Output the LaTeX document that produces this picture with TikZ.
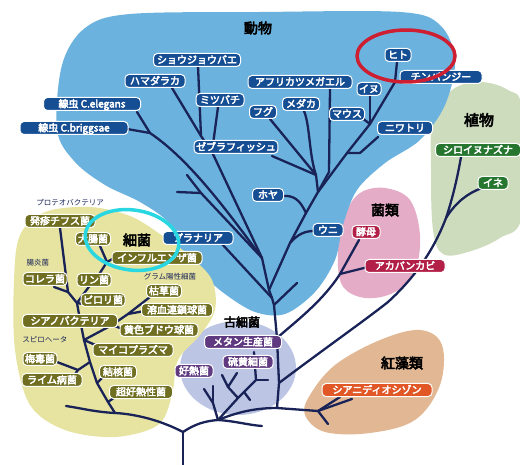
\documentclass[tikz,border=0pt]{standalone}
\usepackage{fontspec}
\newfontfamily\jp{Noto Sans CJK JP}
\newfontfamily\jpb{Noto Sans CJK JP}[FakeBold=4]
\definecolor{bgBlue}{RGB}{108,178,222}
\definecolor{bgYel}{RGB}{230,228,160}
\definecolor{bgArc}{RGB}{188,198,228}
\definecolor{bgPink}{RGB}{228,172,198}
\definecolor{bgGreen}{RGB}{206,220,190}
\definecolor{bgTan}{RGB}{226,184,148}
\definecolor{cAni}{RGB}{22,78,148}
\definecolor{cBac}{RGB}{112,110,32}
\definecolor{cArc}{RGB}{96,58,128}
\definecolor{cFun}{RGB}{178,32,72}
\definecolor{cPla}{RGB}{38,118,48}
\definecolor{cRed}{RGB}{225,88,38}
\definecolor{treeC}{RGB}{25,35,88}
\definecolor{ringRed}{RGB}{205,30,50}
\definecolor{ringCyan}{RGB}{40,215,225}
\tikzset{
 lab/.style={rounded corners=4pt, draw=white, line width=1pt, text=white,
   font=\jpb\fontsize{10}{10}\selectfont, inner xsep=2pt, inner ysep=1.5pt,
   text height=8.5pt, text depth=1.5pt},
 ani/.style={lab, fill=cAni},
 bac/.style={lab, fill=cBac},
 arc/.style={lab, fill=cArc},
 fun/.style={lab, fill=cFun},
 pla/.style={lab, fill=cPla},
 rea/.style={lab, fill=cRed},
 grp/.style={font=\jpb\fontsize{14}{14}\selectfont, text=black, inner sep=0pt},
 tiny/.style={font=\jp\fontsize{7.5}{7.5}\selectfont, text=treeC, inner sep=0pt},
 br/.style={draw=treeC, line width=2.3pt, line cap=round, line join=round},
 ring/.style={line width=3.5pt},
}
\begin{document}
\begin{tikzpicture}[x=1pt,y=-1pt]
\useasboundingbox (0,0) rectangle (520,465);
% ---------- regions
\fill[bgGreen] plot[smooth cycle, tension=0.6] coordinates {(433,120) (452,90) (480,82) (508,90) (522,110) (522,215) (500,238) (468,252) (443,254) (433,230) (431,170)};
\fill[bgTan] plot[smooth cycle, tension=0.6] coordinates {(310,395) (335,365) (380,340) (420,330) (442,345) (440,385) (415,420) (370,433) (325,432) (305,415)};
\fill[bgPink] plot[smooth cycle, tension=0.6] coordinates {(345,215) (360,193) (385,188) (410,200) (420,235) (415,270) (395,292) (365,298) (342,285) (338,250)};
\fill[bgArc] (238,368) ellipse[x radius=58, y radius=47];
\fill[bgBlue] plot[smooth cycle, tension=0.55] coordinates {(62,65) (85,28) (130,14) (260,12) (400,12) (440,25) (455,60) (445,105) (420,140) (385,163) (357,190) (343,225) (335,260) (315,292) (285,314) (255,312) (225,294) (200,272) (180,248) (168,222) (140,202) (105,185) (75,162) (57,130)};
\fill[bgYel] plot[smooth cycle, tension=0.55] coordinates {(20,235) (45,212) (90,207) (130,216) (160,234) (190,256) (212,280) (215,310) (200,335) (178,360) (172,395) (158,425) (115,437) (65,430) (30,405) (15,350) (14,280)};
% ---------- tree: trunk
\coordinate (root) at (183,466);
\coordinate (f0) at (183,432);
\coordinate (b0) at (115,413);
\coordinate (bl) at (66,406);
\coordinate (ar) at (218,420);
\coordinate (st) at (262,426);
\coordinate (eu) at (277,408);
\coordinate (ra) at (318,411);
\draw[br] (root) -- (f0);
\draw[br] (f0) .. controls (160,420) and (135,414) .. (b0) .. controls (95,412) and (80,408) .. (bl);
\draw[br] (f0) .. controls (195,424) and (205,421) .. (ar);
\draw[br] (ar) .. controls (235,421) and (248,425) .. (st);
\draw[br] (ar) .. controls (238,412) and (255,408) .. (eu) -- (ra);
% red algae
\coordinate (ra1) at (352,399);
\coordinate (ra2) at (340,397);
\coordinate (ra3) at (328,424);
\draw[br] (ra) -- (ra1);
\draw[br] (ra) -- (ra2);
\draw[br] (ra) -- (ra3);
% animal stem
\coordinate (a1) at (279,383);
\coordinate (a2) at (277,338);
\coordinate (a3) at (274,305);
\coordinate (a3b) at (272,298);
\coordinate (a4) at (269,290);
\coordinate (stb) at (297,283);
\draw[br] (eu) -- (a1) -- (a2) -- (a3) -- (a3b) -- (a4);
\draw[br] (a3) -- (stb);
% plants
\coordinate (pl1) at (388,302);
\coordinate (p1) at (446,218);
\coordinate (pAra) at (461,157);
\coordinate (pIne) at (482,188);
\draw[br] (a1) .. controls (320,352) and (368,318) .. (pl1) .. controls (410,282) and (432,255) .. (p1) .. controls (452,200) and (457,180) .. (pAra);
\draw[br] (p1) .. controls (456,202) and (468,193) .. (pIne);
% fungi
\coordinate (g1) at (340,274);
\coordinate (gYe) at (359,240);
\coordinate (gAk) at (368,267);
\draw[br] (a2) .. controls (295,322) and (322,302) .. (g1) -- (gYe);
\draw[br] (g1) -- (gAk);
% planaria
\coordinate (pl0) at (222,244);
\draw[br] (pl0) -- (a3b);
% protostomes
\coordinate (p0) at (262,258);
\coordinate (ins1) at (212,152);
\coordinate (ins0) at (201,136);
\coordinate (iDro) at (198,66);
\coordinate (iHam) at (172,88);
\coordinate (iMit) at (218,107);
\coordinate (nem0) at (150,133);
\coordinate (nEle) at (137,112);
\coordinate (nBri) at (127,129);
\coordinate (sg1) at (201,193);
\coordinate (sg0) at (187,175);
\coordinate (sg2) at (177,192);
\draw[br] (a4) -- (p0) -- (ins1) -- (ins0) -- (iDro);
\draw[br] (ins0) -- (iHam);
\draw[br] (ins1) -- (iMit);
\draw[br] (p0) .. controls (228,212) and (190,160) .. (nem0) -- (nEle);
\draw[br] (nem0) -- (nBri);
\draw[br] (p0) -- (sg1) -- (sg0);
\draw[br] (sg1) -- (sg2);
% deuterostomes
\coordinate (d1) at (290,243);
\coordinate (d2) at (306,213);
\coordinate (v0) at (318,192);
\coordinate (f1) at (316,175);
\coordinate (v1) at (347,153);
\coordinate (v2) at (370,124);
\coordinate (v3) at (395,82);
\coordinate (fr0) at (329,172);
\draw[br] (a4) -- (d1) -- (d2) -- (v0) -- (v1) -- (v2) -- (v3);
\coordinate (dUni) at (314,231);
\coordinate (dHoy) at (282,196);
\draw[br] (d1) .. controls (298,234) and (305,231) .. (dUni);
\draw[br] (d2) .. controls (300,200) and (294,195) .. (dHoy);
\coordinate (fZeb) at (272,156);
\coordinate (fFug) at (270,119);
\coordinate (fMed) at (304,111);
\coordinate (fFro) at (330,89);
\draw[br] (v0) -- (f1) -- (fZeb);
\draw[br] (f1) -- (fFug);
\draw[br] (f1) .. controls (309,155) and (310,125) .. (fMed);
\draw[br] (v0) -- (fr0) -- (fFro);
\coordinate (v1b) at (360,153);
\coordinate (vNiw) at (378,137);
\coordinate (vMou) at (362,118);
\coordinate (vDog) at (370,96);
\coordinate (vChi) at (408,80);
\coordinate (vHit) at (397,62);
\draw[br] (v1) -- (v1b) -- (vNiw);
\draw[br] (v2) -- (vMou);
\draw[br] (v2) -- (vDog);
\draw[br] (v3) -- (vChi);
\draw[br] (v3) -- (vHit);
% bacteria
\coordinate (s1) at (108,402);
\coordinate (s2) at (97,383);
\coordinate (s3) at (90,362);
\coordinate (s4) at (84,340);
\coordinate (s5) at (80,320);
\coordinate (s6) at (77,303);
\coordinate (s7) at (68,292);
\draw[br] (b0) -- (s1) -- (s2) -- (s3) -- (s4) -- (s5) -- (s6) -- (s7);
\coordinate (bCho) at (118,395);
\coordinate (bKek) at (106,374);
\coordinate (sp0) at (78,370);
\coordinate (bBai) at (57,362);
\coordinate (bLym) at (70,381);
\coordinate (bMyc) at (100,347);
\coordinate (gb1) at (112,325);
\coordinate (gb2) at (128,314);
\coordinate (bKos) at (150,297);
\coordinate (bYou) at (150,310);
\coordinate (bOus) at (128,331);
\coordinate (bCya) at (70,321);
\coordinate (bPyl) at (96,306);
\coordinate (bCho2) at (54,287);
\coordinate (bHas) at (60,228);
\coordinate (pr1) at (88,288);
\coordinate (pr2) at (98,276);
\coordinate (pr3) at (107,262);
\coordinate (bDai) at (100,246);
\coordinate (bInf) at (116,257);
\draw[br] (s1) -- (bCho);
\draw[br] (s2) -- (bKek);
\draw[br] (s3) -- (sp0) -- (bBai);
\draw[br] (sp0) -- (bLym);
\draw[br] (s4) -- (bMyc);
\draw[br] (s4) -- (gb1) -- (gb2) -- (bKos);
\draw[br] (gb2) -- (bYou);
\draw[br] (gb1) -- (bOus);
\draw[br] (s5) -- (bCya);
\draw[br] (s6) -- (bPyl);
\draw[br] (s7) -- (bCho2);
\draw[br] (s7) -- (bHas);
\draw[br] (s6) -- (pr1) -- (pr2) -- (pr3) -- (bDai);
\draw[br] (pr3) -- (bInf);
% archaea
\coordinate (ab0) at (213,403);
\coordinate (ab1) at (204,389);
\coordinate (ab2) at (213,386);
\coordinate (aa1) at (238,398);
\coordinate (ac0) at (228,387);
\coordinate (ac1) at (222,375);
\coordinate (ac2) at (237,373);
\coordinate (aa2) at (256,380);
\coordinate (aa4) at (268,380);
\coordinate (aa3) at (254,352);
\coordinate (aa5) at (250,400);
\coordinate (aa6) at (244,392);
\draw[br] (ar) -- (ab0) -- (ab1);
\draw[br] (ab0) -- (ab2);
\draw[br] (ar) -- (aa1) -- (aa2) -- (aa3);
\draw[br] (aa1) -- (ac0) -- (ac1);
\draw[br] (ac0) -- (ac2);
\draw[br] (aa2) -- (aa4);
\draw[br] (aa6) -- (aa5);
% ---------- labels: animals
\node[grp] (gAni) at (258,28) {動物};
\node[ani, minimum width=87] (nDro) at (197,60) {ショウジョウバエ};
\node[ani, minimum width=60] (nHam) at (155,81) {ハマダラカ};
\node[ani, minimum width=97] (nEleL) at (92,104) {線虫 C.elegans};
\node[ani, minimum width=108] (nBriL) at (74,128) {線虫 C.briggsae};
\node[ani, minimum width=48] (nMit) at (220,100) {ミツバチ};
\node[ani, minimum width=104] (nAfr) at (300,82) {アフリカツメガエル};
\node[ani, minimum width=27] (nFug) at (263,112) {フグ};
\node[ani, minimum width=37] (nMed) at (301,104) {メダカ};
\node[ani, minimum width=35] (nMou) at (347,114) {マウス};
\node[ani, minimum width=24] (nDog) at (369,89) {イヌ};
\node[ani, minimum width=82] (nChi) at (441,77) {チンパンジー};
\node[ani, minimum width=26] (nHit) at (398,55) {ヒト};
\node[ani, minimum width=55] (nNiw) at (405,128) {ニワトリ};
\node[ani, minimum width=80] (nZeb) at (236,147) {ゼブラフィッシュ};
\node[ani, minimum width=31] (nHoy) at (268,195) {ホヤ};
\node[ani, minimum width=30] (nUni) at (328,230) {ウニ};
\node[ani, minimum width=70] (nPla) at (198,238) {プラナリア};
% bacteria
\node[tiny] (tPro) at (70,203) {プロテオバクテリア};
\node[tiny] (tCho) at (38,263) {腸炎菌};
\node[tiny] (tGra) at (170,277) {グラム陽性細菌};
\node[tiny] (tSpi) at (45,340) {スピロヘータ};
\node[bac, minimum width=70] (nHas) at (60,221) {発疹チフス菌};
\node[bac, minimum width=35] (nDai) at (93,239) {大腸菌};
\node[grp] (gBac) at (137,240) {細菌};
\node[bac, minimum width=90] (nInf) at (157,258) {インフルエンザ菌};
\node[bac, minimum width=44] (nCho) at (45,279) {コレラ菌};
\node[bac, minimum width=32] (nRin) at (94,280) {リン菌};
\node[bac, minimum width=35] (nKos) at (164,291) {枯草菌};
\node[bac, minimum width=40] (nPyl) at (103,300) {ピロリ菌};
\node[bac, minimum width=71] (nYou) at (177,310) {溶血連鎖球菌};
\node[bac, minimum width=95] (nCya) at (70,321) {シアノバクテリア};
\node[bac, minimum width=78] (nOus) at (159,330) {黄色ブドウ球菌};
\node[bac, minimum width=80] (nMyc) at (133,350) {マイコプラズマ};
\node[bac, minimum width=34] (nBai) at (40,359) {梅毒菌};
\node[bac, minimum width=37] (nKek) at (118,372) {結核菌};
\node[bac, minimum width=60] (nLym) at (52,380) {ライム病菌};
\node[bac, minimum width=63] (nCho3) at (141,392) {超好熱性菌};
% archaea
\node[grp, font=\jpb\fontsize{12}{12}\selectfont] (gArc) at (242,322) {古細菌};
\node[arc, minimum width=77] (nMet) at (243,342) {メタン生産菌};
\node[arc, minimum width=50] (nIou) at (248,362) {硫黄細菌};
\node[arc, minimum width=38] (nKon) at (194,371) {好熱菌};
% fungi
\node[grp] (gFun) at (385,210) {菌類};
\node[fun, minimum width=28] (nKob) at (366,232) {酵母};
\node[fun, minimum width=80] (nAka) at (405,266) {アカパンカビ};
% plants
\node[grp, font=\jpb\fontsize{15}{15}\selectfont] (gPla) at (479,120) {植物};
\node[pla, minimum width=85] (nAra) at (478,150) {シロイヌナズナ};
\node[pla, minimum width=30] (nIne) at (493,183) {イネ};
% red algae
\node[grp] (gRed) at (402,363) {紅藻類};
\node[rea, minimum width=110] (nCya2) at (377,390) {シアニディオシゾン};
% ---------- highlight rings
\draw[ring, ringRed] (406,56) ellipse[x radius=49, y radius=26];
\draw[ring, ringCyan, rotate around={-8:(132,240)}] (132,240) ellipse[x radius=47, y radius=30];
\end{tikzpicture}
\end{document}
